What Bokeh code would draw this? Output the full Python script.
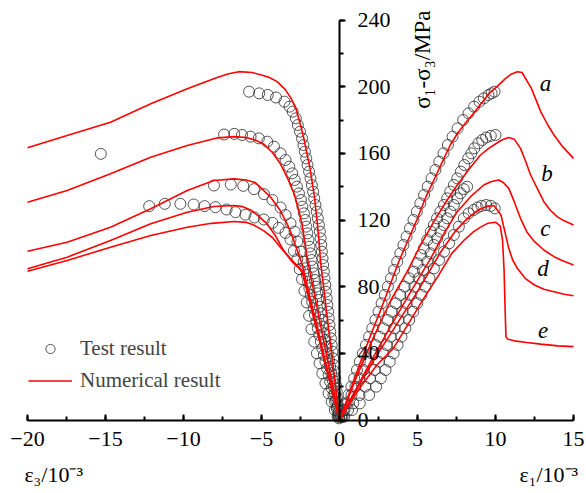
from bokeh.plotting import figure
from bokeh.models import (LinearAxis, SingleIntervalTicker, Range1d, Label,
                          Legend, LegendItem)
from bokeh.embed import file_html
from bokeh.resources import INLINE

# ---------------- numerical (red) curves ----------------
num_a_left_x = [-20, -17.46, -14.68, -12.1, -9.76, -7.8, -7.1, -6.45, -5.6, -5.0, -4.5, -4.0, -3.5, -3.1, -2.8, -2.5, -2.3, -2.1, -1.9, -1.75, -1.6, -1.45, -1.33, -1.22, -0.9, -0.6, -0.3, 0]
num_a_left_y = [163.3, 170.7, 178.7, 189.7, 198.7, 205.7, 207.8, 209, 208.5, 207, 205.5, 203, 198.5, 193, 187, 177, 169.5, 160.5, 151.5, 142.5, 133.5, 120.5, 109.5, 95.5, 70.5, 47, 23.5, 0]
num_b_left_x = [-20, -17.46, -14.68, -12.1, -9.76, -7.8, -6.75, -6.0, -5.4, -4.85, -4.3, -3.78, -3.3, -2.9, -2.6, -2.4, -2.2, -2.08, -1.6, -1.0, -0.5, 0]
num_b_left_y = [130.7, 137.7, 147.7, 157.7, 164.7, 169.3, 170, 169.5, 168, 165.5, 160.5, 153.5, 144.5, 135.5, 125.5, 117.5, 105.5, 97.5, 75, 47, 23.5, 0]
num_c_left_x = [-20, -17.46, -14.68, -12.1, -9.76, -8.05, -6.75, -6.0, -5.4, -5.0, -4.4, -3.85, -3.35, -3.0, -2.7, -2.4, -1.8, -1.2, -0.6, 0]
num_c_left_y = [101.3, 106.7, 115.7, 126.7, 137.7, 143.7, 144.7, 144, 142.5, 139, 133.5, 126.5, 117.5, 109.5, 101.5, 93.5, 70, 46.5, 23, 0]
num_d_left_x = [-20, -17.46, -14.68, -12.1, -9.76, -8.05, -6.75, -6.2, -5.7, -5.2, -4.63, -4.1, -3.57, -3.0, -2.4, -1.6, -0.8, 0]
num_d_left_y = [90.7, 97.7, 107.7, 117.7, 124.7, 128.1, 128.7, 128, 126, 122.5, 117.5, 110.5, 101.5, 94.5, 89.5, 59.5, 30, 0]
num_e_left_x = [-20, -17.46, -14.68, -12.1, -9.76, -8.2, -6.75, -6.0, -5.5, -4.85, -4.3, -3.78, -3.2, -2.7, -2.4, -1.6, -0.8, 0]
num_e_left_y = [89.3, 95.7, 103.7, 110.7, 115.7, 118, 119.1, 118.6, 117, 113.5, 109.5, 103.5, 97.5, 92.5, 89.5, 59.5, 30, 0]

num_a_right_x = [0, 0.7, 1.35, 2.0, 2.6, 3.2, 3.8, 4.4, 5.0, 5.5, 6.05, 6.6, 7.1, 7.6, 8.1, 8.6, 9.1, 9.6, 10.1, 10.6, 11.0, 11.4, 11.7, 12.3, 12.9, 13.35, 13.75, 14.3, 15]
num_a_right_y = [0, 18, 35, 51, 65, 80, 95, 108, 121, 133, 144, 155, 165, 172.5, 178.5, 184, 190, 196, 200, 204.5, 207.5, 209, 208.5, 199, 185, 177, 171, 164, 157]
num_b_right_x = [0, 1.1, 2.2, 3.3, 4.34, 5.2, 6.05, 6.8, 7.55, 8.3, 9.04, 9.5, 9.9, 10.4, 10.85, 11.2, 11.6, 11.9, 12.25, 12.7, 13.1, 13.5, 13.95, 14.4, 15]
num_b_right_y = [0, 26, 50, 72, 89, 105, 119, 130.5, 141, 150.5, 159, 162.5, 165, 168, 169.5, 168.5, 163, 156, 147, 138.5, 131, 126, 122, 119.5, 117]
num_c_right_x = [0, 1, 2, 3.2, 4.5, 5.85, 6.7, 7.55, 8.4, 9.25, 9.7, 10.2, 10.5, 10.85, 11.2, 11.6, 12.0, 12.5, 13.1, 13.75, 14.3, 15]
num_c_right_y = [0, 17.5, 35, 55, 76, 97, 112, 125, 134, 141, 143, 144, 142.5, 139, 131, 121, 113, 107, 102, 98, 95.5, 93]
num_d_right_x = [0, 1, 2.2, 3.5, 5.0, 6.5, 7.4, 8.2, 8.9, 9.45, 9.9, 10.35, 10.6, 10.85, 11.1, 11.4, 11.9, 12.5, 13.1, 13.75, 14.4, 15]
num_d_right_y = [0, 17, 36, 55, 77, 101, 113, 121, 126, 128.2, 128.7, 123, 113, 103, 96, 91, 85, 81, 78.5, 77, 75.5, 74.5]
num_e_right_x = [0, 1.2, 2.4, 3.45, 4.5, 5.4, 6.3, 7.2, 8.0, 8.6, 9.1, 9.5, 10.0, 10.3, 10.45, 10.55, 10.62, 10.67, 10.8, 11.2, 12.0, 12.9, 14.0, 15]
num_e_right_y = [0, 18, 33, 43, 59, 73, 86, 100, 108, 113, 116, 118, 118.7, 116.5, 108, 90, 65, 50, 48.5, 47.5, 46.5, 45.5, 44.5, 44]

# ---------------- test results (circles) ----------------
test_a_right_x = [0.1, 0.25, 0.4, 0.58, 0.76, 0.94, 1.12, 1.3, 1.5, 1.7, 1.9, 2.1, 2.3, 2.5, 2.7, 2.9, 3.1, 3.3, 3.5, 3.7, 3.9, 4.1, 4.3, 4.52, 4.74, 4.96, 5.18, 5.42, 5.66, 5.9, 6.15, 6.4, 6.67, 6.95, 7.25, 7.57, 7.93, 8.27, 8.63, 8.97, 9.25, 9.55, 9.75, 9.94]
test_a_right_y = [2, 6, 10, 15, 20, 25, 30, 35, 40, 45, 50, 55, 60, 65, 70, 75, 80, 85, 90, 95, 100, 105, 110, 115, 120, 125, 130, 135, 140, 145, 150, 155, 160, 165, 170, 175, 180, 184, 188, 191, 193, 195, 196, 197]
test_b_right_x = [0.12, 0.32, 0.52, 0.77, 1.02, 1.28, 1.53, 1.79, 2.05, 2.3, 2.56, 2.82, 3.08, 3.35, 3.62, 3.9, 4.18, 4.47, 4.77, 5.0, 5.22, 5.4, 5.62, 5.85, 6.05, 6.25, 6.47, 6.7, 6.9, 7.1, 7.33, 7.55, 7.78, 8.0, 8.25, 8.45, 8.64, 8.9, 9.15, 9.4, 9.7, 10.0]
test_b_right_y = [2, 6, 10, 15, 20, 25, 30, 35, 40, 45, 50, 55, 60, 65, 70, 75, 80, 85, 89, 94, 99, 103, 108, 113, 117, 121, 125, 129, 133, 137, 141, 145, 149, 153, 157, 160, 163, 166, 168, 169.5, 170.5, 171]
test_c_right_x = [0.2, 0.55, 0.88, 1.28, 1.65, 1.95, 2.25, 2.52, 2.78, 3.02, 3.27, 3.52, 3.77, 4.02, 4.28, 4.54, 4.8, 5.07, 5.35, 5.62, 5.84, 6.05, 6.26, 6.47, 6.68, 6.9, 7.11, 7.33, 7.55, 7.76, 7.97, 8.18]
test_c_right_y = [2, 6, 10, 15, 20, 25, 30, 35, 40, 45, 50, 55, 60, 65, 70, 75, 80, 85, 90, 95, 100, 105, 109, 113, 117, 121, 125, 129, 133, 136, 138.5, 140]
test_d_right_x = [0.3, 0.8, 1.3, 1.9, 2.35, 2.65, 2.95, 3.22, 3.47, 3.72, 3.97, 4.22, 4.47, 4.73, 4.99, 5.25, 5.51, 5.77, 6.05, 6.38, 6.7, 7.02, 7.33, 7.65, 7.97, 8.28, 8.6, 8.85, 9.1, 9.4, 9.7, 9.95]
test_d_right_y = [2, 6, 10, 15, 20, 25, 30, 35, 40, 45, 50, 55, 60, 65, 70, 75, 80, 85, 91, 96, 101, 106, 111, 116, 121, 124, 126, 127.5, 128.5, 129, 128.5, 127]

test_a_left_x = [-15.3, -5.8, -5.15, -4.6, -4.07, -3.53, -3.2, -3.0, -2.8, -2.67, -2.53, -2.4, -2.31, -2.22, -2.13, -2.05, -1.95, -1.86, -1.77, -1.69, -1.62, -1.54, -1.46, -1.39, -1.32, -1.26, -1.21, -1.17, -1.13, -1.09, -1.05, -1.0, -0.96, -0.91, -0.87, -0.82, -0.78, -0.73, -0.69, -0.64, -0.59, -0.55, -0.5, -0.45, -0.41, -0.36, -0.32, -0.27, -0.23, -0.18, -0.14, -0.1, -0.05, -0.02]
test_a_left_y = [159.7, 197, 196, 195, 193.5, 191, 188, 185, 181, 177, 173, 169, 165, 161, 157, 153, 149, 145, 141, 137, 133, 129, 125, 121, 117, 113, 109, 105, 101, 97, 93, 89, 85, 81, 77, 73, 69, 65, 61, 57, 53, 49, 45, 41, 37, 33, 29, 25, 21, 17, 13, 9, 5, 2]
test_b_left_x = [-7.4, -6.75, -6.25, -5.7, -5.17, -4.63, -4.2, -3.78, -3.46, -3.22, -3.03, -2.87, -2.73, -2.6, -2.47, -2.38, -2.28, -2.2, -2.13, -2.06, -1.99, -1.93, -1.87, -1.79, -1.72, -1.65, -1.57, -1.5, -1.42, -1.35, -1.27, -1.2, -1.12, -1.05, -0.97, -0.9, -0.82, -0.75, -0.67, -0.6, -0.52, -0.45, -0.37, -0.3, -0.22, -0.15, -0.07, -0.02]
test_b_left_y = [171.3, 171.7, 171, 170, 169, 167, 164, 160, 156, 152, 148, 144, 140, 136, 132, 128, 124, 120, 116, 112, 108, 104, 100, 96, 92, 88, 84, 80, 76, 72, 68, 64, 60, 56, 52, 48, 44, 40, 36, 32, 28, 24, 20, 16, 12, 8, 4, 1]
test_c_left_x = [-8.05, -6.97, -6.17, -5.48, -4.84, -4.3, -3.78, -3.46, -3.14, -2.88, -2.7, -2.47, -2.3, -2.2, -2.1, -2.01, -1.93, -1.84, -1.75, -1.66, -1.57, -1.48, -1.39, -1.3, -1.2, -1.1, -1.0, -0.9, -0.8, -0.7, -0.6, -0.5, -0.39, -0.29, -0.18, -0.08]
test_c_left_y = [140.7, 141.3, 140.5, 138.5, 135.5, 132, 127.5, 123, 118, 113, 107, 101, 95, 91, 87, 83, 79, 75, 71, 67, 63, 59, 55, 51, 47, 43, 39, 35, 31, 27, 23, 19, 15, 11, 7, 3]
test_d_left_x = [-12.2, -11.2, -10.2, -9.35, -8.65, -7.95, -7.24, -6.67, -6.03, -5.45, -4.85, -4.3, -3.9, -3.46, -3.14, -2.92, -2.7, -2.55, -2.4, -2.25, -2.1, -1.95, -1.8, -1.62, -1.45, -1.28, -1.1, -0.9, -0.7, -0.5, -0.3, -0.12]
test_d_left_y = [128.3, 129.7, 129.7, 129.3, 128.3, 127.7, 126.3, 124.7, 123.2, 121.5, 120.3, 118.3, 115.3, 112.3, 108.3, 101.5, 96.5, 90.5, 84.5, 77.5, 70.5, 62.5, 54.5, 47, 40, 34, 28, 22, 16, 11, 6, 2]

# ---------------- texts ----------------
curve_names = ["a", "b", "c", "d", "e"]
curve_name_x = [13.2, 13.3, 13.2, 13.05, 13.05]
curve_name_y = [201.9, 147.9, 114.9, 90.9, 53.7]
x_ticks_interval = 5
y_ticks_interval = 40

SERIF = "Liberation Serif"
RED = "#ff0000"

# frame covers the whole canvas; axes are pinned at x = 0 and y = 0
p = figure(width=586, height=493, output_backend="svg", toolbar_location=None,
           x_range=Range1d(-21.731, 15.833), y_range=Range1d(-44.1, 251.7),
           x_axis_type=None, y_axis_type=None,
           min_border_left=0, min_border_right=0, min_border_top=0,
           min_border_bottom=0)
p.outline_line_color = None
p.background_fill_color = "white"
p.border_fill_color = "white"

# x axis along y = 0
xaxis = LinearAxis(ticker=SingleIntervalTicker(interval=x_ticks_interval, num_minor_ticks=2),
                   fixed_location=0, bounds=(-20, 15))
xaxis.major_tick_in = 6
xaxis.major_tick_out = 0
xaxis.minor_tick_in = 4
xaxis.minor_tick_out = 0
xaxis.axis_line_width = 2
xaxis.major_tick_line_width = 2
xaxis.minor_tick_line_width = 2
xaxis.major_label_standoff = 12
xaxis.major_label_text_font = SERIF
xaxis.major_label_text_font_size = "22px"
xaxis.major_label_text_color = "black"
p.add_layout(xaxis, "below")

# y axis along x = 0, labels to its right
yaxis = LinearAxis(ticker=SingleIntervalTicker(interval=y_ticks_interval, num_minor_ticks=2),
                   fixed_location=0, bounds=(0, 240))
yaxis.major_tick_out = 6
yaxis.major_tick_in = 0
yaxis.minor_tick_out = 4
yaxis.minor_tick_in = 0
yaxis.axis_line_width = 2
yaxis.major_tick_line_width = 2
yaxis.minor_tick_line_width = 2
yaxis.major_label_standoff = 12
yaxis.major_label_text_font = SERIF
yaxis.major_label_text_font_size = "22px"
yaxis.major_label_text_color = "black"
p.add_layout(yaxis, "right")

num_sets = [
    (num_a_left_x, num_a_left_y), (num_b_left_x, num_b_left_y), (num_c_left_x, num_c_left_y),
    (num_d_left_x, num_d_left_y), (num_e_left_x, num_e_left_y),
    (num_a_right_x, num_a_right_y), (num_b_right_x, num_b_right_y), (num_c_right_x, num_c_right_y),
    (num_d_right_x, num_d_right_y), (num_e_right_x, num_e_right_y),
]
test_sets = [
    (test_a_right_x, test_a_right_y), (test_b_right_x, test_b_right_y),
    (test_c_right_x, test_c_right_y), (test_d_right_x, test_d_right_y),
    (test_a_left_x, test_a_left_y), (test_b_left_x, test_b_left_y),
    (test_c_left_x, test_c_left_y), (test_d_left_x, test_d_left_y),
]

test_renderers = []
for xs, ys in test_sets:
    r = p.scatter(xs, ys, marker="circle", size=11, fill_color=None,
                  line_color="#2a2a2a", line_width=0.8)
    test_renderers.append(r)

num_renderers = []
for xs, ys in num_sets:
    r = p.line(xs, ys, line_color=RED, line_width=1.6)
    num_renderers.append(r)

legend = Legend(items=[LegendItem(label="Test result", renderers=[test_renderers[0]]),
                       LegendItem(label="Numerical result", renderers=[num_renderers[0]])],
                location=(28, 100), glyph_width=44, glyph_height=23, spacing=7,
                padding=0, margin=0, label_standoff=8,
                label_text_font=SERIF, label_text_font_size="21px",
                border_line_color=None, background_fill_alpha=0)
p.add_layout(legend)

for name, cx, cy in zip(curve_names, curve_name_x, curve_name_y):
    p.add_layout(Label(x=cx, y=cy, text=name, text_font=SERIF, text_font_size="23px",
                       text_font_style="italic", text_align="center",
                       text_baseline="middle", text_color="black"))

p.add_layout(Label(x=5.32, y=245.7, text="σ₁-σ₃/MPa", angle=90, angle_units="deg",
                   text_font=SERIF, text_font_size="23px", text_align="right",
                   text_baseline="middle", text_color="black"))
p.add_layout(Label(x=-20.2, y=-32.7, text="ε₃/10⁻³", text_font=SERIF, text_font_size="22px",
                   text_align="left", text_baseline="alphabetic", text_color="black"))
p.add_layout(Label(x=15.3, y=-32.7, text="ε₁/10⁻³", text_font=SERIF, text_font_size="22px",
                   text_align="right", text_baseline="alphabetic", text_color="black"))

open("out.html", "w").write(file_html(p, INLINE))
